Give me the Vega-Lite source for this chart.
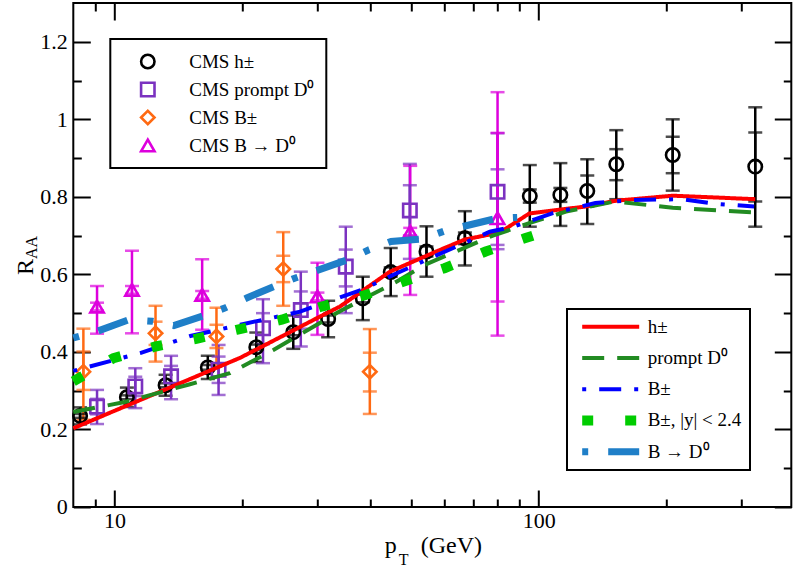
{
  "$schema": "https://vega.github.io/schema/vega-lite/v6.json",
  "width": 718,
  "height": 504,
  "autosize": {"type": "none"},
  "padding": {"left": 73.3, "top": 3, "right": 6, "bottom": 62},
  "background": "white",
  "datasets": {
    "pts": [
      {"exp":"CMS h±","x":8.3,"y":0.235,"lo":0.213,"hi":0.257,"ilo":0.23,"ihi":0.24},
      {"exp":"CMS h±","x":10.7,"y":0.283,"lo":0.258,"hi":0.308,"ilo":0.278,"ihi":0.288},
      {"exp":"CMS h±","x":13.2,"y":0.314,"lo":0.287,"hi":0.341,"ilo":0.309,"ihi":0.319},
      {"exp":"CMS h±","x":16.6,"y":0.36,"lo":0.33,"hi":0.39,"ilo":0.354,"ihi":0.366},
      {"exp":"CMS h±","x":21.6,"y":0.412,"lo":0.374,"hi":0.45,"ilo":0.405,"ihi":0.419},
      {"exp":"CMS h±","x":26.4,"y":0.451,"lo":0.408,"hi":0.494,"ilo":0.443,"ihi":0.459},
      {"exp":"CMS h±","x":31.9,"y":0.485,"lo":0.438,"hi":0.532,"ilo":0.476,"ihi":0.494},
      {"exp":"CMS h±","x":38.5,"y":0.538,"lo":0.482,"hi":0.594,"ilo":0.528,"ihi":0.548},
      {"exp":"CMS h±","x":44.8,"y":0.606,"lo":0.544,"hi":0.668,"ilo":0.594,"ihi":0.618},
      {"exp":"CMS h±","x":54.4,"y":0.659,"lo":0.594,"hi":0.724,"ilo":0.646,"ihi":0.672},
      {"exp":"CMS h±","x":67,"y":0.693,"lo":0.623,"hi":0.763,"ilo":0.678,"ihi":0.708},
      {"exp":"CMS h±","x":95.3,"y":0.802,"lo":0.723,"hi":0.882,"ilo":0.785,"ihi":0.819},
      {"exp":"CMS h±","x":112.5,"y":0.805,"lo":0.725,"hi":0.887,"ilo":0.787,"ihi":0.823},
      {"exp":"CMS h±","x":130.2,"y":0.815,"lo":0.73,"hi":0.897,"ilo":0.775,"ihi":0.855},
      {"exp":"CMS h±","x":152.4,"y":0.884,"lo":0.794,"hi":0.972,"ilo":0.843,"ihi":0.923},
      {"exp":"CMS h±","x":207,"y":0.908,"lo":0.816,"hi":1.0,"ilo":0.861,"ihi":0.955},
      {"exp":"CMS h±","x":324,"y":0.878,"lo":0.723,"hi":1.031,"ilo":0.788,"ihi":0.966},
      {"exp":"CMS prompt D⁰","x":9.1,"y":0.259,"lo":0.214,"hi":0.302,"ilo":0.239,"ihi":0.279},
      {"exp":"CMS prompt D⁰","x":11.2,"y":0.311,"lo":0.255,"hi":0.358,"ilo":0.286,"ihi":0.336},
      {"exp":"CMS prompt D⁰","x":13.6,"y":0.337,"lo":0.278,"hi":0.39,"ilo":0.31,"ihi":0.364},
      {"exp":"CMS prompt D⁰","x":17.6,"y":0.354,"lo":0.289,"hi":0.418,"ilo":0.32,"ihi":0.388},
      {"exp":"CMS prompt D⁰","x":22.4,"y":0.461,"lo":0.371,"hi":0.536,"ilo":0.42,"ihi":0.5},
      {"exp":"CMS prompt D⁰","x":27.5,"y":0.508,"lo":0.414,"hi":0.607,"ilo":0.46,"ihi":0.556},
      {"exp":"CMS prompt D⁰","x":35.1,"y":0.62,"lo":0.5,"hi":0.723,"ilo":0.569,"ihi":0.664},
      {"exp":"CMS prompt D⁰","x":49.7,"y":0.765,"lo":0.64,"hi":0.885,"ilo":0.7,"ihi":0.83},
      {"exp":"CMS prompt D⁰","x":80,"y":0.813,"lo":0.665,"hi":0.964,"ilo":0.676,"ihi":0.871},
      {"exp":"CMS B±","x":8.45,"y":0.349,"lo":0.225,"hi":0.46,"ilo":0.302,"ihi":0.401},
      {"exp":"CMS B±","x":12.5,"y":0.448,"lo":0.375,"hi":0.519,"ilo":0.418,"ihi":0.478},
      {"exp":"CMS B±","x":17.4,"y":0.44,"lo":0.367,"hi":0.514,"ilo":0.41,"ihi":0.47},
      {"exp":"CMS B±","x":25,"y":0.614,"lo":0.519,"hi":0.709,"ilo":0.58,"ihi":0.648},
      {"exp":"CMS B±","x":40,"y":0.349,"lo":0.24,"hi":0.459,"ilo":0.298,"ihi":0.398},
      {"exp":"CMS B → D⁰","x":9.1,"y":0.517,"lo":0.447,"hi":0.57,"ilo":0.507,"ihi":0.527},
      {"exp":"CMS B → D⁰","x":11,"y":0.56,"lo":0.448,"hi":0.661,"ilo":0.55,"ihi":0.57},
      {"exp":"CMS B → D⁰","x":16.1,"y":0.547,"lo":0.457,"hi":0.639,"ilo":0.537,"ihi":0.557},
      {"exp":"CMS B → D⁰","x":30.1,"y":0.543,"lo":0.444,"hi":0.63,"ilo":0.533,"ihi":0.553},
      {"exp":"CMS B → D⁰","x":49.8,"y":0.71,"lo":0.547,"hi":0.88,"ilo":0.7,"ihi":0.72},
      {"exp":"CMS B → D⁰","x":80,"y":0.745,"lo":0.442,"hi":1.07,"ilo":0.53,"ihi":0.965}
    ],
    "lines": [
      {"model":"h±","x":8,"y":0.203},{"model":"h±","x":10,"y":0.248},{"model":"h±","x":15,"y":0.329},{"model":"h±","x":19.8,"y":0.385},{"model":"h±","x":25,"y":0.442},{"model":"h±","x":30,"y":0.487},{"model":"h±","x":34,"y":0.517},{"model":"h±","x":44.6,"y":0.607},{"model":"h±","x":58.5,"y":0.663},{"model":"h±","x":67,"y":0.69},{"model":"h±","x":81,"y":0.708},{"model":"h±","x":95,"y":0.757},{"model":"h±","x":110,"y":0.766},{"model":"h±","x":129,"y":0.775},{"model":"h±","x":152,"y":0.79},{"model":"h±","x":207,"y":0.803},{"model":"h±","x":324,"y":0.794},
      {"model":"prompt D⁰","x":8,"y":0.245},{"model":"prompt D⁰","x":10.5,"y":0.27},{"model":"prompt D⁰","x":15,"y":0.316},{"model":"prompt D⁰","x":18.7,"y":0.345},{"model":"prompt D⁰","x":23.7,"y":0.405},{"model":"prompt D⁰","x":34,"y":0.505},{"model":"prompt D⁰","x":46,"y":0.58},{"model":"prompt D⁰","x":54,"y":0.625},{"model":"prompt D⁰","x":78,"y":0.7},{"model":"prompt D⁰","x":95,"y":0.732},{"model":"prompt D⁰","x":116,"y":0.762},{"model":"prompt D⁰","x":151,"y":0.788},{"model":"prompt D⁰","x":207,"y":0.772},{"model":"prompt D⁰","x":322,"y":0.76},
      {"model":"B±","x":8,"y":0.351},{"model":"B±","x":11.5,"y":0.397},{"model":"B±","x":15.1,"y":0.441},{"model":"B±","x":19.8,"y":0.47},{"model":"B±","x":27.4,"y":0.504},{"model":"B±","x":38.6,"y":0.562},{"model":"B±","x":46.3,"y":0.603},{"model":"B±","x":56.6,"y":0.646},{"model":"B±","x":76.7,"y":0.71},{"model":"B±","x":87,"y":0.723},{"model":"B±","x":108,"y":0.758},{"model":"B±","x":136,"y":0.784},{"model":"B±","x":167,"y":0.792},{"model":"B±","x":218,"y":0.794},{"model":"B±","x":262,"y":0.782},{"model":"B±","x":322,"y":0.775},
      {"model":"B±, |y| < 2.4","x":8,"y":0.324},{"model":"B±, |y| < 2.4","x":9.95,"y":0.384},{"model":"B±, |y| < 2.4","x":12.5,"y":0.414},{"model":"B±, |y| < 2.4","x":15.6,"y":0.434},{"model":"B±, |y| < 2.4","x":19.4,"y":0.457},{"model":"B±, |y| < 2.4","x":24.8,"y":0.483},{"model":"B±, |y| < 2.4","x":30.8,"y":0.517},{"model":"B±, |y| < 2.4","x":38.6,"y":0.545},{"model":"B±, |y| < 2.4","x":47.9,"y":0.581},{"model":"B±, |y| < 2.4","x":60,"y":0.616},{"model":"B±, |y| < 2.4","x":75,"y":0.659},{"model":"B±, |y| < 2.4","x":92.7,"y":0.693},{"model":"B±, |y| < 2.4","x":97,"y":0.7},
      {"model":"B → D⁰","x":8,"y":0.436},{"model":"B → D⁰","x":9.09,"y":0.453},{"model":"B → D⁰","x":10.8,"y":0.483},{"model":"B → D⁰","x":12.3,"y":0.479},{"model":"B → D⁰","x":13.8,"y":0.468},{"model":"B → D⁰","x":16.2,"y":0.493},{"model":"B → D⁰","x":18.2,"y":0.513},{"model":"B → D⁰","x":20.5,"y":0.539},{"model":"B → D⁰","x":23.9,"y":0.57},{"model":"B → D⁰","x":26.6,"y":0.59},{"model":"B → D⁰","x":35.3,"y":0.637},{"model":"B → D⁰","x":39.7,"y":0.663},{"model":"B → D⁰","x":44.9,"y":0.685},{"model":"B → D⁰","x":53,"y":0.691},{"model":"B → D⁰","x":60,"y":0.712},{"model":"B → D⁰","x":80,"y":0.745},{"model":"B → D⁰","x":89,"y":0.747}
    ]
  },
  "resolve": {
    "scale": {"color": "independent", "shape": "independent", "strokeDash": "independent", "strokeWidth": "independent", "stroke": "independent", "fill": "independent"},
    "axis": {"x": "independent", "y": "independent"}
  },
  "layer": [
    {
      "data": {"name": "pts"},
      "layer": [
        {
          "mark": {"type": "errorbar", "ticks": {"strokeWidth": 0}, "size": 14, "thickness": 2.5},
          "encoding": {
            "x": {"field": "x", "type": "quantitative", "scale": {"type": "log", "domain": [8, 394], "nice": false}, "axis": null},
            "y": {"field": "lo", "type": "quantitative", "scale": {"domain": [0, 1.3], "nice": false, "zero": false}, "axis": null},
            "y2": {"field": "hi"},
            "stroke": {"field": "exp", "type": "nominal", "legend": null,
              "scale": {"domain": ["CMS B → D⁰", "CMS B±", "CMS prompt D⁰", "CMS h±"], "range": ["#DD00DD", "#FF6A13", "#7B32C0", "#000000"]}},
            "fill": {"field": "exp", "type": "nominal", "legend": null,
              "scale": {"domain": ["CMS B → D⁰", "CMS B±", "CMS prompt D⁰", "CMS h±"], "range": ["#DD00DD", "#FF6A13", "#7B32C0", "#000000"]}}
          }
        },
        {
          "mark": {"type": "errorbar", "ticks": {"strokeWidth": 0}, "size": 14, "thickness": 2.5},
          "encoding": {
            "x": {"field": "x", "type": "quantitative", "scale": {"type": "log", "domain": [8, 394], "nice": false}, "axis": null},
            "y": {"field": "ilo", "type": "quantitative", "scale": {"domain": [0, 1.3], "nice": false, "zero": false}, "axis": null},
            "y2": {"field": "ihi"},
            "stroke": {"field": "exp", "type": "nominal", "legend": null,
              "scale": {"domain": ["CMS B → D⁰", "CMS B±", "CMS prompt D⁰", "CMS h±"], "range": ["#DD00DD", "#FF6A13", "#7B32C0", "#000000"]}},
            "fill": {"field": "exp", "type": "nominal", "legend": null,
              "scale": {"domain": ["CMS B → D⁰", "CMS B±", "CMS prompt D⁰", "CMS h±"], "range": ["#DD00DD", "#FF6A13", "#7B32C0", "#000000"]}}
          }
        },
        {
          "mark": {"type": "point", "filled": false, "strokeWidth": 2.6, "size": 180, "opacity": 1},
          "encoding": {
            "x": {"field": "x", "type": "quantitative", "scale": {"type": "log", "domain": [8, 394], "nice": false}, "axis": null},
            "y": {"field": "y", "type": "quantitative", "scale": {"domain": [0, 1.3], "nice": false, "zero": false}, "axis": null},
            "color": {"field": "exp", "type": "nominal",
              "scale": {"domain": ["CMS h±", "CMS prompt D⁰", "CMS B±", "CMS B → D⁰"], "range": ["#000000", "#7B32C0", "#FF6A13", "#DD00DD"]},
              "legend": {"title": null, "orient": "none", "legendX": 37, "legendY": 36, "strokeColor": "black", "padding": 11.5, "clipHeight": 22, "symbolOffset": 16.5, "labelOffset": 32, "rowPadding": 6,
                "labelFont": "Liberation Serif", "labelFontSize": 19, "labelColor": "black", "symbolStrokeWidth": 2.6, "symbolSize": 180, "labelLimit": 300}},
            "shape": {"field": "exp", "type": "nominal",
              "scale": {"domain": ["CMS h±", "CMS prompt D⁰", "CMS B±", "CMS B → D⁰"], "range": ["circle", "square", "diamond", "triangle-up"]},
              "legend": {"title": null, "orient": "none", "legendX": 37, "legendY": 36, "strokeColor": "black", "padding": 11.5, "clipHeight": 22, "symbolOffset": 16.5, "labelOffset": 32, "rowPadding": 6,
                "labelFont": "Liberation Serif", "labelFontSize": 19, "labelColor": "black", "symbolStrokeWidth": 2.6, "symbolSize": 180, "labelLimit": 300}}
          }
        }
      ]
    },
    {
      "data": {"name": "lines"},
      "layer": [
        {"transform": [{"filter": "datum.model === 'h±'"}], "mark": {"type": "line", "strokeCap": "butt"}},
        {"transform": [{"filter": "datum.model === 'prompt D⁰'"}], "mark": {"type": "line", "strokeCap": "butt"}},
        {"transform": [{"filter": "datum.model === 'B±'"}], "mark": {"type": "line", "strokeCap": "butt"}},
        {"transform": [{"filter": "datum.model === 'B±, |y| < 2.4'"}], "mark": {"type": "line", "strokeCap": "butt"}},
        {"transform": [{"filter": "datum.model === 'B → D⁰'"}], "mark": {"type": "line", "strokeCap": "butt"}}
      ],
      "encoding": {
        "x": {"field": "x", "type": "quantitative", "scale": {"type": "log", "domain": [8, 394], "nice": false}, "axis": null},
        "y": {"field": "y", "type": "quantitative", "scale": {"domain": [0, 1.3], "nice": false, "zero": false}, "axis": null},
        "color": {"field": "model", "type": "nominal",
          "scale": {"domain": ["h±", "prompt D⁰", "B±", "B±, |y| < 2.4", "B → D⁰"], "range": ["#FF0000", "#228B22", "#0000FF", "#00CC00", "#1F7FC8"]},
          "legend": {"title": null, "orient": "none", "legendX": 493.7, "legendY": 306, "strokeColor": "black", "padding": 7.7, "clipHeight": 20, "symbolType": "M-5.7,0H5.7", "symbolSize": 100,
            "symbolOffset": 26, "labelOffset": 27, "rowPadding": 11.25, "labelFont": "Liberation Serif", "labelFontSize": 19, "labelColor": "black", "labelLimit": 300}},
        "strokeDash": {"field": "model", "type": "nominal",
          "scale": {"domain": ["h±", "prompt D⁰", "B±", "B±, |y| < 2.4", "B → D⁰"], "range": [[1, 0], [22, 13], [4, 13, 22, 13], [11, 32], [6, 20, 31, 20]]},
          "legend": {"title": null, "orient": "none", "legendX": 493.7, "legendY": 306, "strokeColor": "black", "padding": 7.7, "clipHeight": 20, "symbolType": "M-5.7,0H5.7", "symbolSize": 100,
            "symbolOffset": 26, "labelOffset": 27, "rowPadding": 11.25, "labelFont": "Liberation Serif", "labelFontSize": 19, "labelColor": "black", "labelLimit": 300}},
        "strokeWidth": {"field": "model", "type": "nominal",
          "scale": {"type": "ordinal", "domain": ["h±", "prompt D⁰", "B±", "B±, |y| < 2.4", "B → D⁰"], "range": [4, 4, 4, 10, 7]},
          "legend": {"title": null, "orient": "none", "legendX": 493.7, "legendY": 306, "strokeColor": "black", "padding": 7.7, "clipHeight": 20, "symbolType": "M-5.7,0H5.7", "symbolSize": 100,
            "symbolOffset": 26, "labelOffset": 27, "rowPadding": 11.25, "labelFont": "Liberation Serif", "labelFontSize": 19, "labelColor": "black", "labelLimit": 300}}
      }
    },
    {
      "data": {"name": "lines"},
      "mark": {"type": "point", "opacity": 0},
      "encoding": {
        "x": {"field": "x", "type": "quantitative", "scale": {"type": "log", "domain": [8, 394], "nice": false},
          "axis": {"orient": "bottom", "values": [10, 100], "format": "~g", "tickSize": -17, "tickWidth": 2, "tickColor": "black", "domain": false, "grid": false,
            "labelFont": "Liberation Serif", "labelFontSize": 22, "labelColor": "black", "labelPadding": 21, "labelFlush": false, "labelOverlap": false, "labelBound": false,
            "title": "p", "titleFont": "Liberation Serif", "titleFontSize": 24, "titleFontWeight": "normal", "titleColor": "black",
            "titleAlign": "left", "titleBaseline": "alphabetic", "titleX": 311, "titleY": 46}},
        "y": {"field": "y", "type": "quantitative", "scale": {"domain": [0, 1.3], "nice": false, "zero": false},
          "axis": {"orient": "left", "values": [0, 0.2, 0.4, 0.6, 0.8, 1.0, 1.2], "format": "~g", "tickSize": -17, "tickWidth": 2, "tickColor": "black", "domain": false, "grid": false,
            "labelFont": "Liberation Serif", "labelFontSize": 22, "labelColor": "black", "labelPadding": 23, "labelFlush": false, "labelOverlap": false, "labelBound": false,
            "title": "R", "titleFont": "Liberation Serif", "titleFontSize": 24, "titleFontWeight": "normal", "titleColor": "black",
            "titleAngle": -90, "titleAlign": "center", "titleBaseline": "alphabetic", "titleX": -40.3, "titleY": 263.5}}
      }
    },
    {
      "data": {"name": "lines"},
      "mark": {"type": "point", "opacity": 0},
      "encoding": {
        "x": {"field": "x", "type": "quantitative", "scale": {"type": "log", "domain": [8, 394], "nice": false},
          "axis": {"orient": "bottom", "values": [9, 20, 30, 40, 50, 60, 70, 80, 90, 200, 300], "tickSize": -8, "tickWidth": 2, "tickColor": "black", "labels": false, "domain": false, "grid": false,
            "title": "T", "titleFont": "Liberation Serif", "titleFontSize": 16, "titleFontWeight": "normal", "titleColor": "black",
            "titleAlign": "left", "titleBaseline": "alphabetic", "titleX": 325, "titleY": 58}},
        "y": {"field": "y", "type": "quantitative", "scale": {"domain": [0, 1.3], "nice": false, "zero": false},
          "axis": {"orient": "left", "values": [0.1, 0.3, 0.5, 0.7, 0.9, 1.1], "tickSize": -8, "tickWidth": 2, "tickColor": "black", "labels": false, "domain": false, "grid": false,
            "title": "AA", "titleFont": "Liberation Serif", "titleFontSize": 16, "titleFontWeight": "normal", "titleColor": "black",
            "titleAngle": -90, "titleAlign": "center", "titleBaseline": "alphabetic", "titleX": -36.3, "titleY": 244}}
      }
    },
    {
      "data": {"name": "lines"},
      "mark": {"type": "point", "opacity": 0},
      "encoding": {
        "x": {"field": "x", "type": "quantitative", "scale": {"type": "log", "domain": [8, 394], "nice": false},
          "axis": {"orient": "top", "values": [10, 100], "tickSize": -17, "tickWidth": 2, "tickColor": "black", "labels": false, "domain": false, "grid": false,
            "title": "(GeV)", "titleFont": "Liberation Serif", "titleFontSize": 24, "titleFontWeight": "normal", "titleColor": "black",
            "titleAlign": "left", "titleBaseline": "alphabetic", "titleX": 347, "titleY": 550}},
        "y": {"field": "y", "type": "quantitative", "scale": {"domain": [0, 1.3], "nice": false, "zero": false},
          "axis": {"orient": "right", "values": [0, 0.2, 0.4, 0.6, 0.8, 1.0, 1.2], "tickSize": -17, "tickWidth": 2, "tickColor": "black", "labels": false, "domain": false, "grid": false, "title": null}}
      }
    },
    {
      "data": {"name": "lines"},
      "mark": {"type": "point", "opacity": 0},
      "encoding": {
        "x": {"field": "x", "type": "quantitative", "scale": {"type": "log", "domain": [8, 394], "nice": false},
          "axis": {"orient": "top", "values": [9, 20, 30, 40, 50, 60, 70, 80, 90, 200, 300], "tickSize": -8, "tickWidth": 2, "tickColor": "black", "labels": false, "domain": false, "grid": false, "title": null}},
        "y": {"field": "y", "type": "quantitative", "scale": {"domain": [0, 1.3], "nice": false, "zero": false},
          "axis": {"orient": "right", "values": [0.1, 0.3, 0.5, 0.7, 0.9, 1.1], "tickSize": -8, "tickWidth": 2, "tickColor": "black", "labels": false, "domain": false, "grid": false, "title": null}}
      }
    }
  ],
  "config": {
    "view": {"stroke": "black", "strokeWidth": 2},
    "legend": {"strokeWidth": 2},
    "font": "Liberation Serif"
  }
}
